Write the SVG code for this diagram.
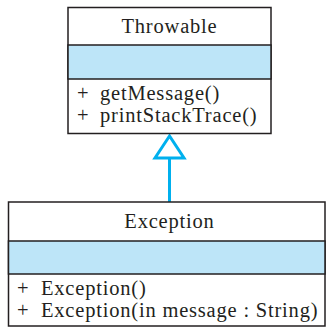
<svg xmlns="http://www.w3.org/2000/svg" width="326" height="328" viewBox="0 0 326 328">
<style>
.box{fill:#fff;stroke:#231f20;stroke-width:1.5}
.attr{fill:#bde5f8;stroke:#231f20;stroke-width:1.5}
.t{font-family:'Liberation Serif','DejaVu Serif',serif;font-size:20.5px;letter-spacing:0.8px;fill:#231f20}
.c{text-anchor:middle}
.conn{stroke:#00b0ee;stroke-width:3;fill:none}
</style>
<rect width="326" height="328" fill="#fff"/>
<g id="connectors">
<line class="conn" x1="169.5" y1="202" x2="169.5" y2="158"/>
<polygon class="conn" points="169.5,136 155,158 184,158" style="fill:#fff"/>
</g>
<g id="Throwable">
<rect class="box" x="68" y="7.5" width="203" height="126"/>
<rect class="attr" x="68" y="45" width="203" height="34"/>
<text class="t c" x="169.5" y="33">Throwable</text>
<text class="t" x="77" y="100">+</text>
<text class="t" x="100" y="100">getMessage()</text>
<text class="t" x="77" y="122">+</text>
<text class="t" x="100" y="122">printStackTrace()</text>
</g>
<g id="Exception">
<rect class="box" x="8.5" y="202" width="316.5" height="124"/>
<rect class="attr" x="8.5" y="241" width="316.5" height="33"/>
<text class="t c" x="169.5" y="228">Exception</text>
<text class="t" x="17" y="295">+</text>
<text class="t" x="41" y="295">Exception()</text>
<text class="t" x="17" y="317">+</text>
<text class="t" x="41" y="317">Exception(in message : String)</text>
</g>
</svg>
